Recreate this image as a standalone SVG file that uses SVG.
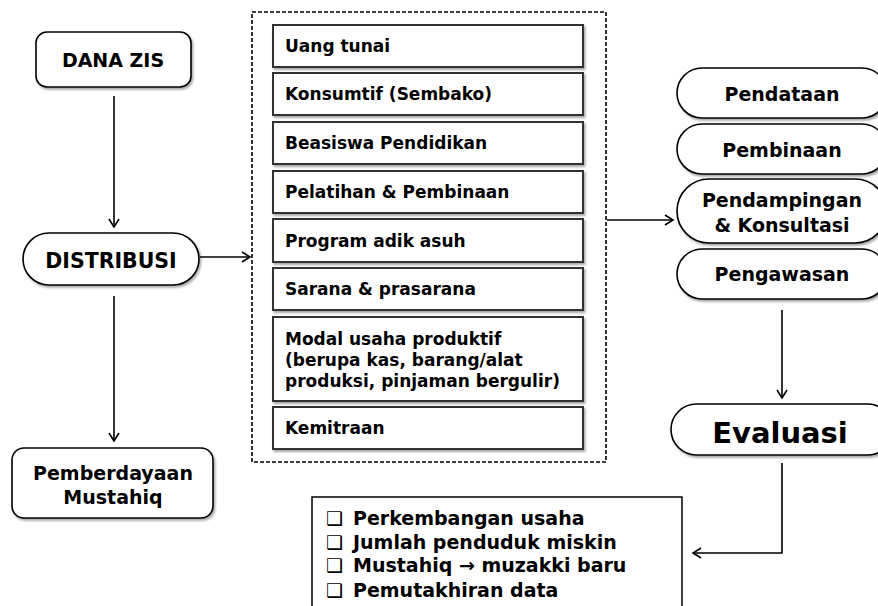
<svg xmlns="http://www.w3.org/2000/svg" width="878" height="606" viewBox="0 0 878 606">
<style>
text{font-family:"DejaVu Sans",Verdana,sans-serif;font-weight:bold;fill:#000}
.c{text-anchor:middle}
.n{fill:#fff;stroke:#000;stroke-width:1.6;filter:url(#sh)}
.i{fill:#fff;stroke:#333;stroke-width:2;filter:url(#sh)}
.l{fill:none;stroke:#000;stroke-width:1.6}
.t17{font-size:17px}
.t19{font-size:19px}
</style>
<defs>
<filter id="sh" x="-10%" y="-10%" width="130%" height="140%">
<feDropShadow dx="1.5" dy="2" stdDeviation="1.2" flood-color="#000" flood-opacity="0.35"/>
</filter>
<marker id="ah" markerWidth="12" markerHeight="12" refX="10" refY="6" orient="auto" markerUnits="userSpaceOnUse">
<path d="M2,1 L10,6 L2,11" fill="none" stroke="#000" stroke-width="1.6"/>
</marker>
</defs>
<g id="connectors">
<line class="l" x1="114" y1="96" x2="114" y2="227" marker-end="url(#ah)"/>
<line class="l" x1="200" y1="257" x2="250" y2="257" marker-end="url(#ah)"/>
<line class="l" x1="114" y1="296" x2="114" y2="441" marker-end="url(#ah)"/>
<line class="l" x1="607" y1="220" x2="673" y2="220" marker-end="url(#ah)"/>
<line class="l" x1="782" y1="310" x2="782" y2="398" marker-end="url(#ah)"/>
<polyline class="l" points="782,463 782,553 693,553" marker-end="url(#ah)"/>
</g>
<g id="dana-zis">
<rect class="n" x="36" y="32" width="155" height="55" rx="11"/>
<text class="c t19" x="113" y="67">DANA ZIS</text>
</g>
<g id="distribusi">
<rect class="n" x="23" y="233" width="176" height="52" rx="26"/>
<text class="c" x="111" y="268" style="font-size:20.5px">DISTRIBUSI</text>
</g>
<g id="pemberdayaan">
<rect class="n" x="12" y="448" width="201" height="70" rx="12"/>
<text class="c t19" x="113" y="480">Pemberdayaan</text>
<text class="c t19" x="113" y="504">Mustahiq</text>
</g>
<g id="program-group">
<rect x="252" y="12" width="354" height="450" fill="none" stroke="#000" stroke-width="1.6" stroke-dasharray="4,2"/>
</g>
<g id="uang-tunai">
<rect class="i" x="273" y="25" width="310" height="42"/>
<text class="t17" x="285" y="52">Uang tunai</text>
</g>
<g id="konsumtif">
<rect class="i" x="273" y="73" width="310" height="42"/>
<text class="t17" x="285" y="100">Konsumtif (Sembako)</text>
</g>
<g id="beasiswa">
<rect class="i" x="273" y="122" width="310" height="42"/>
<text class="t17" x="285" y="149">Beasiswa Pendidikan</text>
</g>
<g id="pelatihan">
<rect class="i" x="273" y="171" width="310" height="42"/>
<text class="t17" x="285" y="198">Pelatihan &amp; Pembinaan</text>
</g>
<g id="adik-asuh">
<rect class="i" x="273" y="219" width="310" height="43"/>
<text class="t17" x="285" y="247">Program adik asuh</text>
</g>
<g id="sarana">
<rect class="i" x="273" y="268" width="310" height="42"/>
<text class="t17" x="285" y="295">Sarana &amp; prasarana</text>
</g>
<g id="modal-usaha">
<rect class="i" x="273" y="317" width="310" height="84"/>
<text class="t17" x="285" y="345">Modal usaha produktif</text>
<text class="t17" x="285" y="366">(berupa kas, barang/alat</text>
<text class="t17" x="285" y="387">produksi, pinjaman bergulir)</text>
</g>
<g id="kemitraan">
<rect class="i" x="273" y="407" width="310" height="42"/>
<text class="t17" x="285" y="434">Kemitraan</text>
</g>
<g id="pendataan">
<rect class="n" x="677" y="68" width="210" height="50" rx="25"/>
<text class="c t19" x="782" y="101">Pendataan</text>
</g>
<g id="pembinaan">
<rect class="n" x="677" y="124" width="210" height="50" rx="25"/>
<text class="c t19" x="782" y="157">Pembinaan</text>
</g>
<g id="pendampingan">
<rect class="n" x="677" y="179" width="210" height="64" rx="32"/>
<text class="c t19" x="782" y="207">Pendampingan</text>
<text class="c t19" x="782" y="232">&amp; Konsultasi</text>
</g>
<g id="pengawasan">
<rect class="n" x="677" y="249" width="210" height="50" rx="25"/>
<text class="c t19" x="782" y="281">Pengawasan</text>
</g>
<g id="evaluasi">
<rect class="n" x="671" y="404" width="222" height="51" rx="25.5"/>
<text class="c" x="780" y="443" style="font-size:29px">Evaluasi</text>
</g>
<g id="hasil">
<rect x="312" y="497" width="370" height="120" fill="#fff" stroke="#000" stroke-width="1.5"/>
<text class="t19" y="525"><tspan x="326">❑</tspan><tspan x="353">Perkembangan usaha</tspan></text>
<text class="t19" y="549"><tspan x="326">❑</tspan><tspan x="353">Jumlah penduduk miskin</tspan></text>
<text class="t19" y="572"><tspan x="326">❑</tspan><tspan x="353">Mustahiq → muzakki baru</tspan></text>
<text class="t19" y="597"><tspan x="326">❑</tspan><tspan x="353">Pemutakhiran data</tspan></text>
</g>
</svg>
